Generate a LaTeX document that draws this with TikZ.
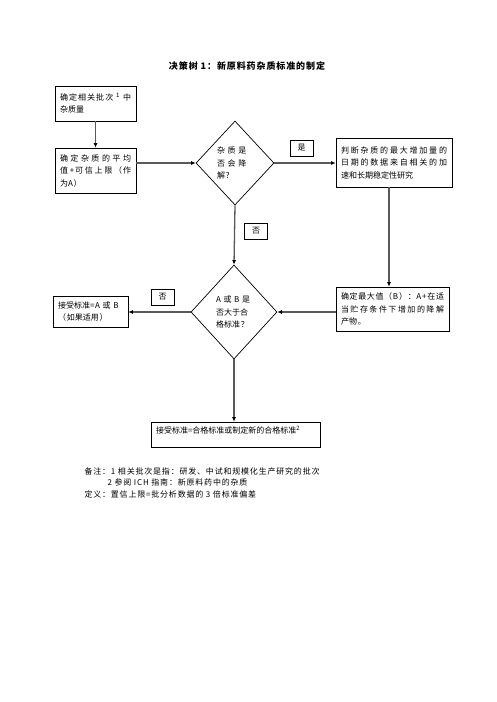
\documentclass[tikz,border=0pt]{standalone}
\usepackage{fontspec}
\setmainfont[LetterSpace=10]{Noto Sans CJK SC}
\XeTeXlinebreaklocale "zh"
\XeTeXlinebreakskip=0pt plus 4pt
\usetikzlibrary{arrows.meta,shapes.geometric}

\begin{document}
\begin{tikzpicture}[x=1pt,y=-1pt]
	\tikzstyle{every node}+=[font=\fontsize{8}{12.5}\selectfont]
	\tikzstyle{box}=[draw,line width=0.7pt,align=justify,inner xsep=5pt,inner ysep=0pt]
	\tikzstyle{decision}=[diamond,draw,line width=0.7pt,inner sep=0pt,text width=36pt,align=left]
	\tikzstyle{tag}=[draw,line width=0.6pt,inner sep=0pt,minimum width=23pt,minimum height=16pt]
	\tikzstyle{arr}=[draw=black!65,line width=1.3pt,-{Latex[length=4.5pt,width=4pt,color=black]}]
	\useasboundingbox (0,0) rectangle (496,702);
	% title
	\node (title) at (247,66) {\fontsize{9}{10}\selectfont\bfseries 决策树 1：新原料药杂质标准的制定};
	% boxes
	\node[box,minimum width=81pt,minimum height=35pt,text width=71pt] (batch) at (95.5,103.5) {确定相关批次 \textsuperscript{1} 中\linebreak 杂质量};
	\node[box,minimum width=81pt,minimum height=45pt,text width=71pt] (meanA) at (95.5,170.5) {确定杂质的平均\linebreak 值+可信上限（作\linebreak 为A）};
	\node[box,minimum width=116pt,minimum height=49pt,text width=106pt] (stab) at (394,162.5) {判断杂质的最大增加量的\linebreak 日期的数据来自相关的加\linebreak 速和长期稳定性研究};
	\node[box,minimum width=113pt,minimum height=44pt,text width=103pt] (maxB) at (392.5,309) {确定最大值（B）：A+在适\linebreak 当贮存条件下增加的降解\linebreak 产物。};
	\node[box,minimum width=75pt,minimum height=31pt,text width=65pt] (accAB) at (90.5,311.5) {接受标准=A 或 B\\（如果适用）};
	\node[box,minimum width=169pt,minimum height=25pt,text width=159pt,text depth=10pt] (accSpec) at (235.5,434.5) {接受标准=合格标准或制定新的合格标准\textsuperscript{2}};
	% decisions
	\node[decision,minimum width=78pt,minimum height=84pt] (degr) at (235,163) {杂 质 是\\否 会 降\\解?};
	\node[decision,minimum width=86pt,minimum height=94pt] (exceed) at (234,312) {A 或 B 是\\否大于合\\格标准？};
	% yes / no tags
	\node[tag] (yes) at (301.5,148) {是};
	\node[tag] (no1) at (256,231) {否};
	\node[tag] (no2) at (162.5,297) {否};
	% connectors
	\draw[arr] (batch) -- (meanA);
	\draw[arr] (meanA.east |- degr) -- (degr.west);
	\draw[arr] (degr.east) -- (degr.east -| stab.west);
	\draw[arr] ([xshift=-5pt]stab.south) -- ([xshift=-3.5pt]maxB.north);
	\draw[arr] (degr.south) -- (exceed.north);
	\draw[arr] (maxB.west |- exceed) -- (exceed.east);
	\draw[arr] (exceed.west) -- (exceed.west -| accAB.east);
	\draw[arr] (exceed.south) -- (exceed.south |- accSpec.north);
	% notes
	\node[anchor=base west] (note1) at (81,474) {备注：1 相关批次是指：研发、中试和规模化生产研究的批次};
	\node[anchor=base west] (note2) at (104,485.5) {2 参阅 ICH 指南：新原料药中的杂质};
	\node[anchor=base west] (defn) at (81,497) {定义：置信上限=批分析数据的 3 倍标准偏差};
\end{tikzpicture}
\end{document}
